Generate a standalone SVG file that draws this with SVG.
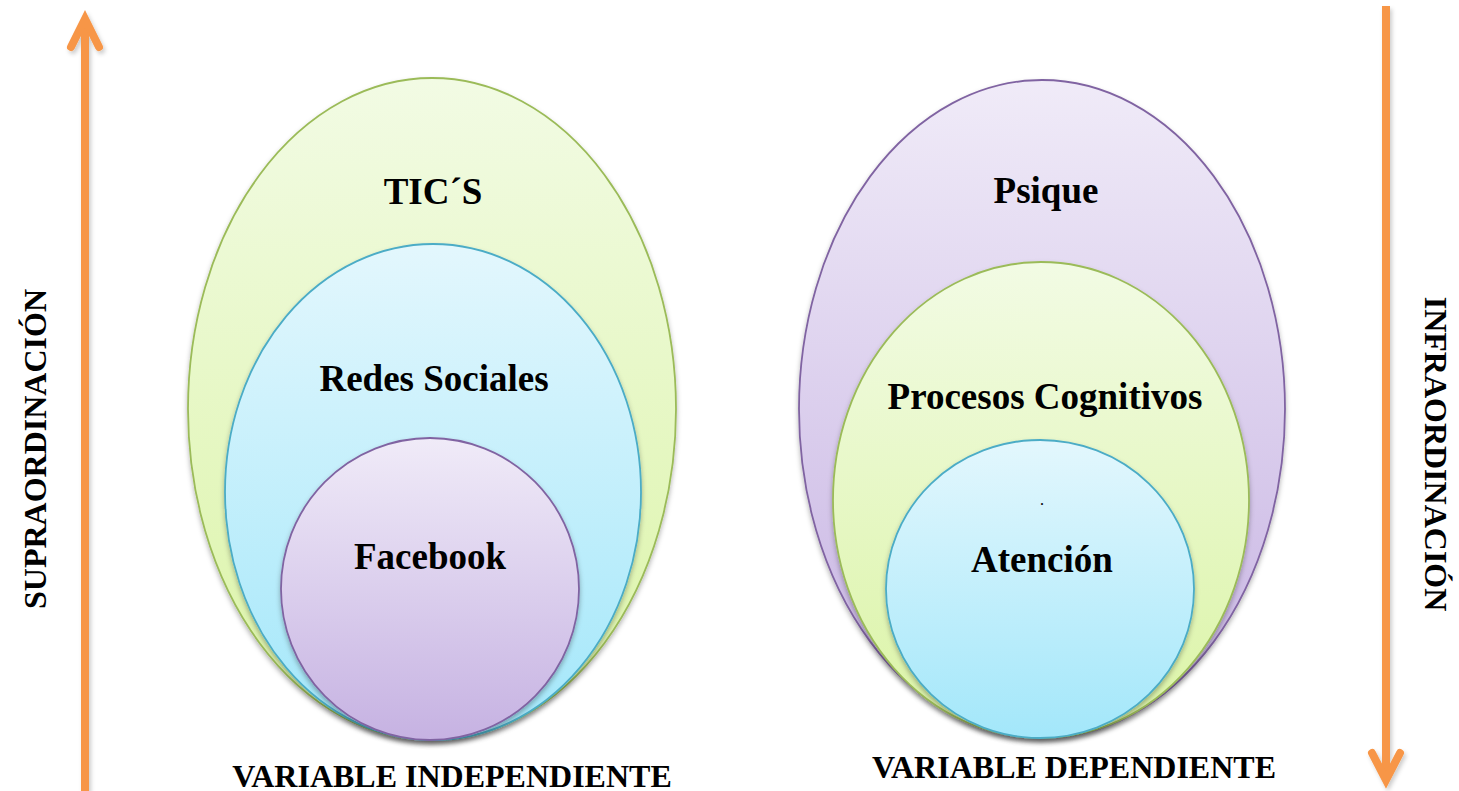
<svg xmlns="http://www.w3.org/2000/svg" width="1459" height="791" viewBox="0 0 1459 791">
<defs>
<linearGradient id="gGreen" x1="0" y1="0" x2="0" y2="1"><stop offset="0" stop-color="#f2fbe4"/><stop offset="1" stop-color="#dbf4a6"/></linearGradient>
<linearGradient id="gBlue" x1="0" y1="0" x2="0" y2="1"><stop offset="0" stop-color="#e3f7fd"/><stop offset="1" stop-color="#a3e7fa"/></linearGradient>
<linearGradient id="gPurple" x1="0" y1="0" x2="0" y2="1"><stop offset="0" stop-color="#f0ebf8"/><stop offset="1" stop-color="#c6b2e2"/></linearGradient>
<filter id="sh" x="-10%" y="-10%" width="120%" height="125%"><feDropShadow dx="0" dy="3" stdDeviation="2.5" flood-color="#000" flood-opacity="0.3"/></filter>
<filter id="ash" x="-50%" y="-5%" width="200%" height="110%"><feDropShadow dx="2" dy="3" stdDeviation="2" flood-color="#000" flood-opacity="0.2"/></filter>
</defs>
<style>
.t{font-family:"Liberation Serif","Times New Roman",serif;font-weight:bold;fill:#000;text-anchor:middle}
.big{font-size:37px}
.lab{font-size:32px}
.side{font-size:32px}
.green{fill:url(#gGreen);stroke:#9bbb59;stroke-width:1.8}
.blue{fill:url(#gBlue);stroke:#4bacc6;stroke-width:1.8}
.purple{fill:url(#gPurple);stroke:#8064a2;stroke-width:1.8}
.arr{fill:none;stroke:#f79646;stroke-width:8;stroke-linecap:round;stroke-linejoin:miter}
</style>
<g id="connectors" filter="url(#ash)">
<line class="arr" x1="85" y1="791" x2="85" y2="20" style="stroke-linecap:butt"/>
<polyline class="arr" points="71,47 85,19 99,47"/>
<line class="arr" x1="1386" y1="6" x2="1386" y2="778" style="stroke-linecap:butt"/>
<polyline class="arr" points="1372,753 1386,780 1400,753"/>
</g>
<g id="tics"><ellipse class="green" filter="url(#sh)" cx="432" cy="409" rx="244" ry="331"/><text class="t big" x="433" y="204">TIC´S</text></g>
<g id="redes"><ellipse class="blue" filter="url(#sh)" cx="433" cy="492" rx="208" ry="248"/><text class="t big" x="434" y="391">Redes Sociales</text></g>
<g id="facebook"><ellipse class="purple" filter="url(#sh)" cx="430" cy="589" rx="149" ry="151"/><text class="t big" x="430" y="569">Facebook</text></g>
<g id="psique"><ellipse class="purple" filter="url(#sh)" cx="1042" cy="409" rx="243" ry="329"/><text class="t big" x="1046" y="203">Psique</text></g>
<g id="procesos"><ellipse class="green" filter="url(#sh)" cx="1041" cy="500" rx="208" ry="238"/><text class="t big" x="1045" y="409">Procesos Cognitivos</text></g>
<g id="atencion"><ellipse class="blue" filter="url(#sh)" cx="1040" cy="589" rx="154" ry="149"/><text class="t" style="font-size:12px" x="1042" y="505">.</text><text class="t big" x="1042" y="572">Atención</text></g>
<g id="labels">
<text class="t lab" x="452" y="787">VARIABLE INDEPENDIENTE</text>
<text class="t lab" x="1074" y="778">VARIABLE DEPENDIENTE</text>
<text class="t side" transform="translate(46,449) rotate(-90)" x="0" y="0">SUPRAORDINACIÓN</text>
<text class="t side" transform="translate(1425,454) rotate(90)" x="0" y="0">INFRAORDINACIÓN</text>
</g>
</svg>
